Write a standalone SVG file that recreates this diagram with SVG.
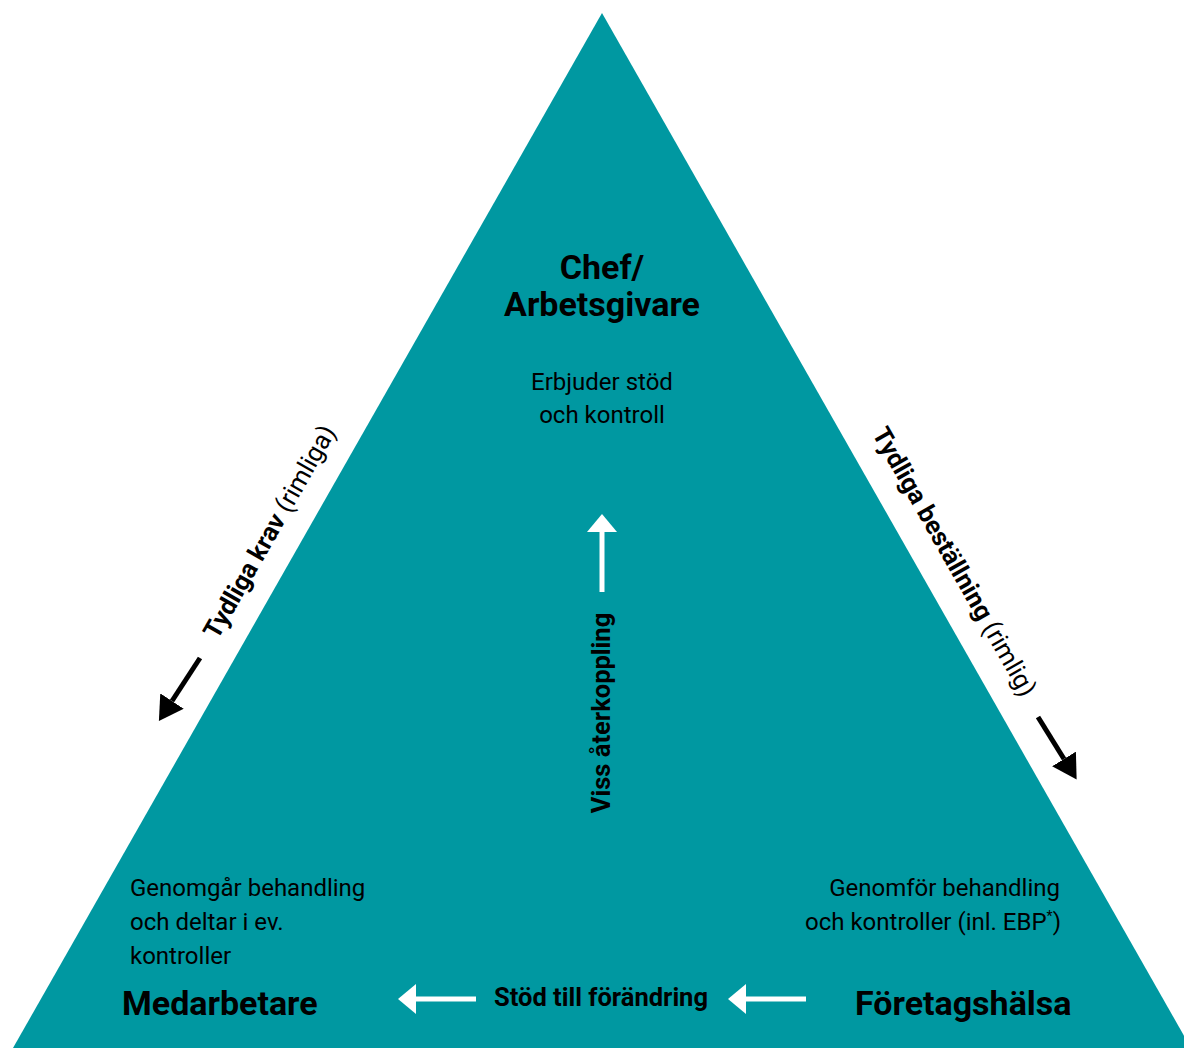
<svg xmlns="http://www.w3.org/2000/svg" width="1184" height="1048" viewBox="0 0 1184 1048">
<style>
.t{font-family:Roboto,"Liberation Sans",sans-serif;fill:#000}
.h{font-weight:bold;font-size:34px}
.b{font-size:24px}
.lb{font-weight:bold;font-size:25.5px}
.lr{font-weight:normal}
.wl{stroke:#fff;stroke-width:5;fill:none}
.kl{stroke:#000;stroke-width:5;fill:none}
</style>
<defs>
<marker id="wh" markerUnits="userSpaceOnUse" markerWidth="20" markerHeight="32" refX="0" refY="16" orient="auto" viewBox="0 0 20 32"><path d="M0,1 L18,16 L0,31 Z" fill="#fff"/></marker>
<marker id="kh" markerUnits="userSpaceOnUse" markerWidth="26" markerHeight="28" refX="0" refY="14" orient="auto" viewBox="0 0 26 28"><path d="M0,0 L24,14 L0,28 Z" fill="#000"/></marker>
</defs>
<rect width="1184" height="1048" fill="#fff"/>
<polygon id="triangle" points="602,13 13,1048 1191,1048" fill="#0098A1"/>
<g id="connectors">
<line class="wl" x1="602" y1="592" x2="602" y2="532" marker-end="url(#wh)"/>
<line class="wl" x1="476" y1="999" x2="416" y2="999" marker-end="url(#wh)"/>
<line class="wl" x1="806" y1="999" x2="746" y2="999" marker-end="url(#wh)"/>
<line class="kl" x1="200" y1="658" x2="172" y2="701" marker-end="url(#kh)"/>
<line class="kl" x1="1038" y1="717" x2="1064" y2="759" marker-end="url(#kh)"/>
</g>
<g id="chef">
<text class="t h" x="602" y="279" text-anchor="middle">Chef/</text>
<text class="t h" x="602" y="316" text-anchor="middle">Arbetsgivare</text>
<text class="t b" x="602" y="390" text-anchor="middle">Erbjuder stöd</text>
<text class="t b" x="602" y="423" text-anchor="middle">och kontroll</text>
</g>
<g id="medarbetare">
<text class="t b" x="130" y="896">Genomgår behandling</text>
<text class="t b" x="130" y="930">och deltar i ev.</text>
<text class="t b" x="130" y="964">kontroller</text>
<text class="t h" x="122" y="1015">Medarbetare</text>
</g>
<g id="foretagshalsa">
<text class="t b" x="1060" y="896" text-anchor="end">Genomför behandling</text>
<text class="t b" x="1061" y="930" text-anchor="end">och kontroller (inl. EBP<tspan font-size="14" dy="-9">*</tspan><tspan dy="9">)</tspan></text>
<text class="t h" x="855" y="1015">Företagshälsa</text>
</g>
<g id="labels">
<text class="t lb" x="601" y="1006" text-anchor="middle">Stöd till förändring</text>
<text class="t lb" transform="translate(610,713) rotate(-90)" text-anchor="middle">Viss återkoppling</text>
<text class="t lb" transform="translate(277,536) rotate(-60.4)" text-anchor="middle">Tydliga krav <tspan class="lr">(rimliga)</tspan></text>
<text class="t lb" transform="translate(947,566) rotate(60.4)" text-anchor="middle">Tydliga beställning <tspan class="lr">(rimlig)</tspan></text>
</g>
</svg>
